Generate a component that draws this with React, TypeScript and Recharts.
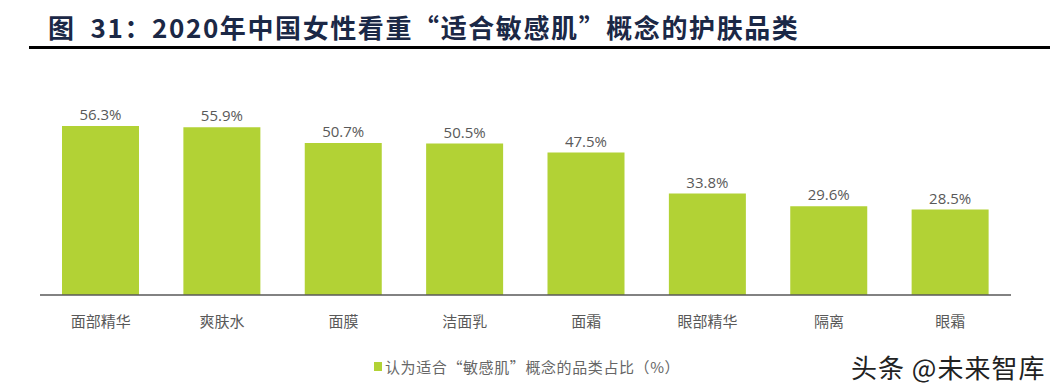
import { Bar, BarChart, LabelList, XAxis, YAxis } from "recharts"

const categories = ["面部精华", "爽肤水", "面膜", "洁面乳", "面霜", "眼部精华", "隔离", "眼霜"]
const shares = [56.3, 55.9, 50.7, 50.5, 47.5, 33.8, 29.6, 28.5]

const title = "图  31：2020年中国女性看重“适合敏感肌”概念的护肤品类"
const seriesName = "认为适合“敏感肌”概念的品类占比（%）"
const watermark = "头条 @未来智库"

const data = categories.map((name, i) => ({ name, value: shares[i] }))

const GREEN = "#b2d235"
const GREY = "#595959"
const CJK = "'Noto Sans CJK SC', 'Noto Sans', sans-serif"

export default function App() {
  return (
    <div
      style={{
        position: "absolute",
        left: 0,
        top: 0,
        width: 1058,
        height: 392,
        background: "#fff",
        fontFamily: CJK,
        overflow: "hidden",
      }}
    >
      <div
        style={{
          position: "absolute",
          left: 48,
          top: 9,
          fontSize: 26,
          fontWeight: 700,
          letterSpacing: 1.6,
          color: "#1b2846",
          whiteSpace: "pre",
          lineHeight: "36px",
        }}
      >
        {title}
      </div>
      <div style={{ position: "absolute", left: 29, top: 46, width: 1021, height: 3, background: "#000" }} />

      <div style={{ position: "absolute", left: 0, top: 0 }}>
        <BarChart
          width={1058}
          height={392}
          data={data}
          margin={{ top: 115, right: 47, bottom: 67, left: 40 }}
        >
          <YAxis hide domain={[0, 60]} />
          <XAxis
            dataKey="name"
            tickLine={false}
            tickSize={0}
            tickMargin={21}
            axisLine={{ stroke: GREY, strokeWidth: 1.5 }}
            tick={{ fontSize: 15, fill: GREY, fontFamily: CJK }}
            interval={0}
          />
          <Bar dataKey="value" fill={GREEN} barSize={77} isAnimationActive={false}>
            <LabelList
              dataKey="value"
              position="top"
              offset={6}
              formatter={(v: number) => `${v.toFixed(1)}%`}
              style={{ fontSize: 15, fill: GREY, fontFamily: "'Open Sans', sans-serif" }}
            />
          </Bar>
        </BarChart>
      </div>

      <div
        style={{
          position: "absolute",
          left: 374,
          top: 356,
          display: "flex",
          alignItems: "center",
          fontSize: 15,
          letterSpacing: 0.6,
          color: "#666",
          whiteSpace: "nowrap",
        }}
      >
        <span style={{ display: "inline-block", width: 8, height: 9, background: GREEN, marginRight: 3 }} />
        {seriesName}
      </div>
      <div
        style={{
          position: "absolute",
          left: 851,
          top: 350,
          fontSize: 26,
          letterSpacing: 1,
          color: "#222",
          whiteSpace: "nowrap",
          lineHeight: "34px",
        }}
      >
        {watermark}
      </div>
    </div>
  )
}
